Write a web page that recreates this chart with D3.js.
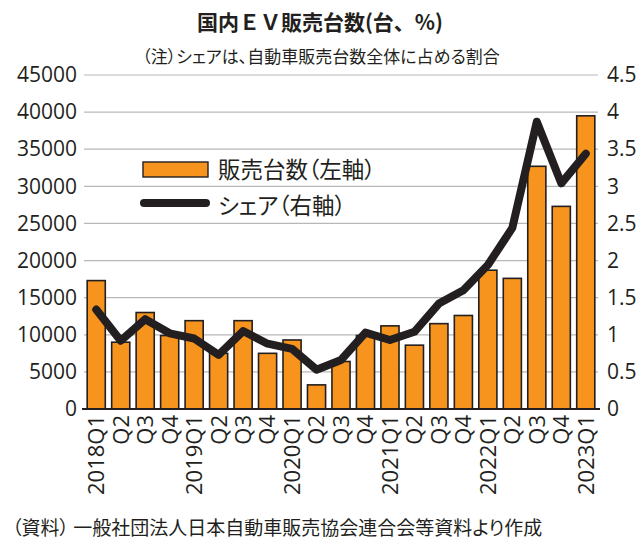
<!DOCTYPE html>
<html>
<head>
<meta charset="utf-8">
<script src="https://cdn.jsdelivr.net/npm/d3@7"></script>
<style>
  body { margin: 0; background: #fff; }
  text { font-family: "Open Sans", "Noto Sans CJK JP", sans-serif; fill: #231f20; }
  .cjk { font-family: "Noto Sans CJK JP", sans-serif; }
  .palt { font-feature-settings: "palt"; }
</style>
</head>
<body>
<div id="chart"></div>
<script>
// quarters on the x axis
const quarters = ["2018Q1","Q2","Q3","Q4","2019Q1","Q2","Q3","Q4","2020Q1","Q2","Q3","Q4",
                  "2021Q1","Q2","Q3","Q4","2022Q1","Q2","Q3","Q4","2023Q1"];
// EV sales units (left axis)
const sales = [17300, 9000, 13000, 9900, 11900, 7500, 11900, 7500, 9300, 3250, 6400, 9900,
               11200, 8600, 11500, 12600, 18700, 17600, 32700, 27300, 39500];
// share of all car sales, % (right axis)
const share = [1.34, 0.92, 1.21, 1.02, 0.95, 0.73, 1.05, 0.88, 0.81, 0.53, 0.66, 1.03,
               0.93, 1.04, 1.42, 1.60, 1.94, 2.44, 3.87, 3.04, 3.44];
const leftTicks = [0,5000,10000,15000,20000,25000,30000,35000,40000,45000];
const rightTicks = [0,0.5,1,1.5,2,2.5,3,3.5,4,4.5];

const W = 641, H = 540;
const MARGIN = {top: 75, right: 43, bottom: 131, left: 84};

const svg = d3.select("#chart").append("svg")
    .attr("width", W).attr("height", H);

const x = d3.scaleBand()
    .domain(d3.range(quarters.length))
    .range([MARGIN.left, W - MARGIN.right])
    .paddingInner(0.26).paddingOuter(0.13);

const yL = d3.scaleLinear().domain([0, 45000]).range([H - MARGIN.bottom, MARGIN.top]);
const yR = d3.scaleLinear().domain([0, 4.5]).range([H - MARGIN.bottom, MARGIN.top]);

// gridlines
svg.append("g")
    .selectAll("line")
    .data(leftTicks.slice(1))
    .join("line")
    .attr("x1", MARGIN.left).attr("x2", W - MARGIN.right)
    .attr("y1", d => yL(d)).attr("y2", d => yL(d))
    .attr("stroke", "#b8b8b8").attr("stroke-width", 1.2);

// left axis labels
const axL = svg.append("g")
    .attr("transform", `translate(${MARGIN.left},0)`)
    .call(d3.axisLeft(yL).tickValues(leftTicks).tickSize(0).tickPadding(7).tickFormat(d3.format("d")));
axL.select(".domain").remove();
axL.selectAll("text").attr("font-size", 21).attr("font-family", "Open Sans").attr("fill", "#231f20");

// right axis labels
const axR = svg.append("g")
    .attr("transform", `translate(${W - MARGIN.right},0)`)
    .call(d3.axisRight(yR).tickValues(rightTicks).tickSize(0).tickPadding(9).tickFormat(d => d));
axR.select(".domain").remove();
axR.selectAll("text").attr("font-size", 21).attr("font-family", "Open Sans").attr("fill", "#231f20");

// bars
svg.append("g")
    .selectAll("rect")
    .data(sales)
    .join("rect")
    .attr("x", (d, i) => x(i))
    .attr("width", x.bandwidth())
    .attr("y", d => yL(d))
    .attr("height", d => yL(0) - yL(d))
    .attr("fill", "#f7941d")
    .attr("stroke", "#231f20")
    .attr("stroke-width", 1.6);

// baseline
svg.append("line")
    .attr("x1", MARGIN.left - 2).attr("x2", W - MARGIN.right + 2)
    .attr("y1", yL(0)).attr("y2", yL(0))
    .attr("stroke", "#231f20").attr("stroke-width", 2);

// share line
const line = d3.line()
    .x((d, i) => x(i) + x.bandwidth() / 2)
    .y(d => yR(d));

svg.append("path")
    .datum(share)
    .attr("d", line)
    .attr("fill", "none")
    .attr("stroke", "#231f20")
    .attr("stroke-width", 8)
    .attr("stroke-linejoin", "round")
    .attr("stroke-linecap", "round");

// x labels, rotated
const axX = svg.append("g")
    .attr("transform", `translate(0,${yL(0)})`)
    .call(d3.axisBottom(x).tickSize(0).tickFormat(i => quarters[i]));
axX.select(".domain").remove();
axX.selectAll("text")
    .attr("font-size", 22)
    .attr("font-family", "Liberation Sans")
    .attr("fill", "#231f20")
    .attr("text-anchor", "end")
    .attr("transform", "rotate(-90)")
    .attr("x", -6)
    .attr("y", 0)
    .attr("dy", "0.36em");

// legend
const lg = svg.append("g");
lg.append("rect")
    .attr("x", 143).attr("y", 162).attr("width", 65).attr("height", 15)
    .attr("fill", "#f7941d").attr("stroke", "#231f20").attr("stroke-width", 1.4);
lg.append("text").attr("class", "cjk palt")
    .attr("x", 218).attr("y", 178).attr("font-size", 22.5)
    .text("販売台数（左軸）");
lg.append("line")
    .attr("x1", 144).attr("x2", 206).attr("y1", 203).attr("y2", 203)
    .attr("stroke", "#231f20").attr("stroke-width", 8).attr("stroke-linecap", "round");
lg.append("text").attr("class", "cjk palt")
    .attr("x", 218).attr("y", 214).attr("font-size", 22.5)
    .text("シェア（右軸）");

// titles
svg.append("text").attr("class", "cjk")
    .attr("x", 320).attr("y", 30).attr("text-anchor", "middle")
    .attr("font-size", 21).attr("font-weight", "bold")
    .text("国内ＥＶ販売台数(台、%)");
svg.append("text").attr("class", "cjk palt")
    .attr("x", 321).attr("y", 63).attr("text-anchor", "middle")
    .attr("font-size", 17)
    .text("（注）シェアは、自動車販売台数全体に占める割合");

// source
svg.append("text").attr("class", "cjk palt")
    .attr("x", 12).attr("y", 535)
    .attr("font-size", 19).attr("fill", "#555")
    .text("（資料） 一般社団法人日本自動車販売協会連合会等資料より作成");
</script>
</body>
</html>
